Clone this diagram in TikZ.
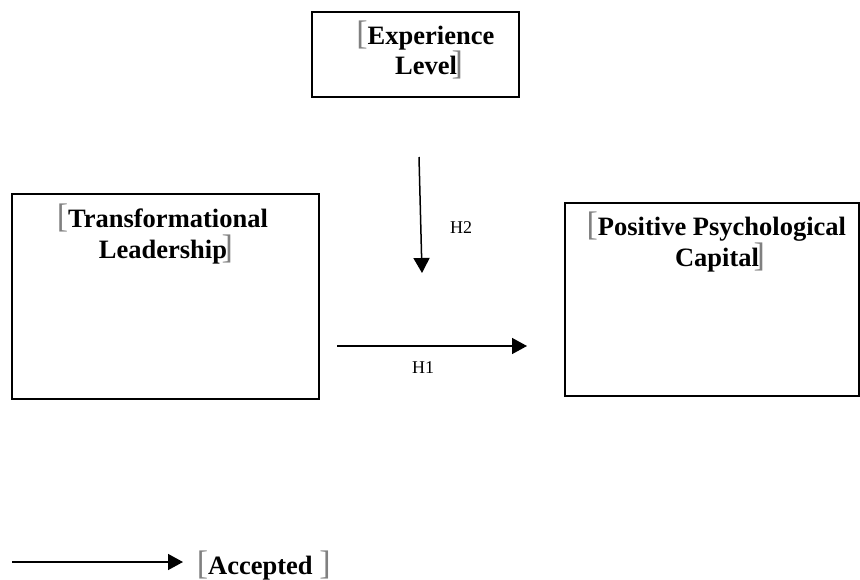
\documentclass[tikz,border=0pt]{standalone}
\usepackage{fontspec}
\setmainfont{Liberation Serif}
\usetikzlibrary{arrows.meta}
\definecolor{markgray}{RGB}{128,128,128}
\newcommand{\gbl}{\smash{\makebox[4pt][r]{\textcolor{markgray}{\fontsize{34}{34}\selectfont\mdseries[}}}}
\newcommand{\gbr}{\smash{\makebox[6pt][r]{\textcolor{markgray}{\fontsize{34}{34}\selectfont\mdseries]}}}}
\begin{document}
\begin{tikzpicture}[x=1pt,y=-1pt,
  box/.style={draw,line width=1.8pt,anchor=north west,inner sep=0pt},
  title/.style={font=\fontsize{26.5}{31}\selectfont\bfseries,align=center,anchor=base,inner sep=0pt},
  hlabel/.style={font=\fontsize{18}{20}\selectfont,inner sep=0pt},
  arr/.style={line width=1.5pt,-{Triangle[length=15pt,width=16pt]}}]
\useasboundingbox (0,0) rectangle (860,579);
% boxes
\node[box,minimum width=207pt,minimum height=85pt] (exp) at (311,11) {};
\node[box,minimum width=307pt,minimum height=205pt] (tl) at (11,193) {};
\node[box,minimum width=294pt,minimum height=193pt] (pc) at (564,202) {};
% texts (anchor=base is the last line's baseline)
\node[title,font=\fontsize{26.5}{30}\selectfont\bfseries] (expt) at (429,74) {\gbl Experience\\Level\gbr};
\node[title] (tlt) at (166,258) {\gbl Transformational\\Leadership\gbr};
\node[title] (pct) at (720,266) {\gbl Positive Psychological\\Capital\gbr};
% arrows
\coordinate (h2s) at (419,157);
\coordinate (h2e) at (422,273);
\draw[arr] (h2s) -- (h2e);
\node[hlabel] (h2) at (461,228) {H2};
\coordinate (h1s) at (337,346);
\coordinate (h1e) at (527,346);
\draw[arr] (h1s) -- (h1e);
\node[hlabel] (h1) at (423,368) {H1};
% legend
\coordinate (ls) at (12,562);
\coordinate (le) at (183,562);
\draw[arr] (ls) -- (le);
\node[title,anchor=base west] (acc) at (204,574) {\gbl Accepted\hspace{12pt}\gbr};
\end{tikzpicture}
\end{document}
